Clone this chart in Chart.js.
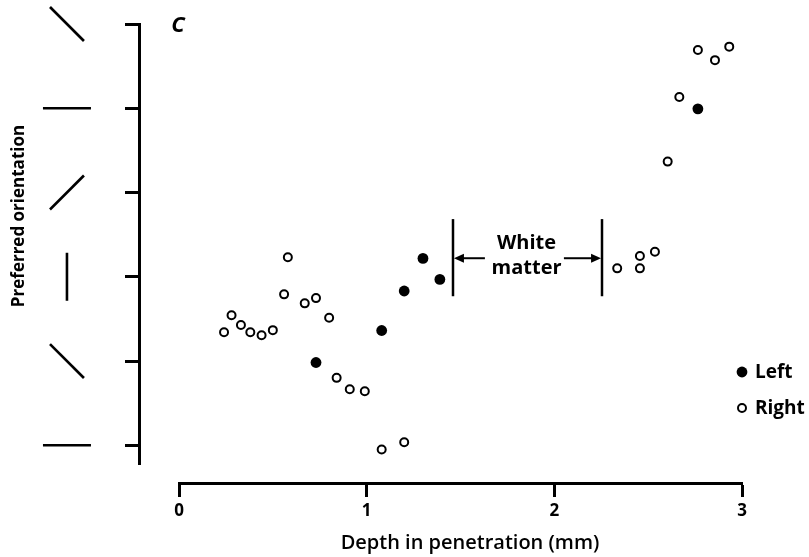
<!DOCTYPE html>
<html>
<head>
<meta charset="utf-8">
<script src="https://cdn.jsdelivr.net/npm/chart.js@4.4.1/dist/chart.umd.min.js"></script>
<style>
  html, body { margin: 0; padding: 0; background: #fff; }
</style>
</head>
<body>
<canvas id="chart" width="809" height="557"></canvas>
<script>
// depth along the electrode track (mm)
const depthTicks = [0, 1, 2, 3];
// preferred orientation, in degrees, bottom tick to top tick
const orientationTicks = [0, 45, 90, 135, 180, 225];
const seriesNames = ['Left', 'Right'];

// left eye (filled dots)
const leftDepth = [0.73, 1.08, 1.20, 1.30, 1.39, 2.765];
const leftOrient = [44.2, 61.3, 82.4, 99.8, 88.6, 179.7];

// right eye (open circles)
const rightDepth = [0.24, 0.28, 0.33, 0.38, 0.44, 0.50, 0.56, 0.58, 0.67, 0.73, 0.80, 0.84, 0.91, 0.99,
  1.08, 1.20, 2.335, 2.456, 2.456, 2.536, 2.604, 2.666, 2.765, 2.856, 2.932];
const rightOrient = [60.4, 69.4, 64.2, 60.4, 58.8, 61.5, 80.6, 100.4, 75.8, 78.6, 68.1, 36.0, 29.9, 28.9,
  -2.3, 1.6, 94.5, 94.5, 101.1, 103.4, 151.5, 186.0, 211.1, 205.7, 212.9];

// white matter stretch of the track (mm)
const whiteMatter = [1.46, 2.254];

const FONT = "'Open Sans', Lato, sans-serif";

/* orientation glyphs, labels, white-matter marker */
const extras = {
  id: 'extras',
  afterDraw(chart) {
    const ctx = chart.ctx;
    const xs = chart.scales.x, ys = chart.scales.y;
    const axisX = xs.getPixelForValue(ys.options.position.x);
    ctx.save();
    ctx.strokeStyle = '#000';
    ctx.fillStyle = '#000';
    ctx.lineCap = 'butt';

    // tick glyphs: a short bar at the orientation of each tick
    ctx.lineWidth = 2.6;
    orientationTicks.forEach(v => {
      const cy = ys.getPixelForValue(v);
      const cx = axisX - 73;
      const a = (180 - v) * Math.PI / 180;
      const L = 24;
      ctx.beginPath();
      ctx.moveTo(cx + Math.cos(a) * L, cy - Math.sin(a) * L);
      ctx.lineTo(cx - Math.cos(a) * L, cy + Math.sin(a) * L);
      ctx.stroke();
    });

    // white matter bounds
    const y1 = ys.getPixelForValue(120.8), y2 = ys.getPixelForValue(79.6);
    const ya = ys.getPixelForValue(99.9);
    ctx.lineWidth = 2.5;
    whiteMatter.forEach(d => {
      const px = xs.getPixelForValue(d);
      ctx.beginPath(); ctx.moveTo(px, y1); ctx.lineTo(px, y2); ctx.stroke();
    });
    const arrow = (from, to) => {
      const fx = xs.getPixelForValue(from), tx = xs.getPixelForValue(to);
      const dir = Math.sign(tx - fx);
      ctx.lineWidth = 2;
      ctx.beginPath(); ctx.moveTo(fx, ya); ctx.lineTo(tx - dir * 8, ya); ctx.stroke();
      ctx.beginPath();
      ctx.moveTo(tx, ya); ctx.lineTo(tx - dir * 10, ya - 4.5); ctx.lineTo(tx - dir * 10, ya + 4.5);
      ctx.closePath(); ctx.fill();
    };
    arrow(1.63, whiteMatter[0] + 0.005);
    arrow(2.051, whiteMatter[1] - 0.005);

    ctx.font = "bold 20px " + FONT;
    ctx.textAlign = 'center';
    ctx.textBaseline = 'middle';
    ctx.fillText('White', xs.getPixelForValue(1.852), ys.getPixelForValue(108.0));
    ctx.fillText('matter', xs.getPixelForValue(1.852), ys.getPixelForValue(94.7));

    // panel letter
    ctx.font = "italic bold 22px " + FONT;
    ctx.fillText('C', chart.chartArea.left - 1, ys.getPixelForValue(224));

    // legend
    const legY = [372, 408];
    ctx.font = "bold 19px " + FONT;
    ctx.textAlign = 'left';
    chart.data.datasets.forEach((ds, i) => {
      ctx.beginPath();
      ctx.arc(742, legY[i], ds.pointRadius, 0, Math.PI * 2);
      if (ds.pointBackgroundColor === '#000') ctx.fill();
      else { ctx.lineWidth = ds.pointBorderWidth; ctx.stroke(); }
      ctx.fillText(ds.label, 755, legY[i] + 1);
    });

    // axis titles
    ctx.font = "600 20px " + FONT;
    ctx.textAlign = 'center';
    ctx.textBaseline = 'alphabetic';
    ctx.fillText('Depth in penetration (mm)', 470, 549);

    ctx.translate(19, 216);
    ctx.rotate(-Math.PI / 2);
    ctx.font = "bold 17px " + FONT;
    ctx.textBaseline = 'middle';
    ctx.fillText('Preferred orientation', 0, 0);
    ctx.restore();
  }
};

new Chart(document.getElementById('chart'), {
  type: 'scatter',
  data: {
    datasets: [
      {
        label: seriesNames[0],
        data: leftDepth.map((d, i) => ({ x: d, y: leftOrient[i] })),
        pointRadius: 5.4,
        pointBackgroundColor: '#000',
        pointBorderColor: '#000',
        pointBorderWidth: 0
      },
      {
        label: seriesNames[1],
        data: rightDepth.map((d, i) => ({ x: d, y: rightOrient[i] })),
        pointRadius: 4,
        pointBackgroundColor: '#fff',
        pointBorderColor: '#000',
        pointBorderWidth: 2
      }
    ]
  },
  options: {
    responsive: false,
    animation: false,
    layout: { padding: { left: 179, right: 67, top: 24, bottom: 93 } },
    plugins: { legend: { display: false }, tooltip: { enabled: false } },
    scales: {
      x: {
        type: 'linear',
        min: 0, max: 3,
        position: { y: -20.2 },
        afterBuildTicks: s => { s.ticks = depthTicks.map(v => ({ value: v })); },
        ticks: { color: '#000', padding: 6, font: { family: FONT, size: 17, weight: 'bold' } },
        grid: { drawOnChartArea: false, tickLength: 12, tickWidth: 3, color: '#000' },
        border: { color: '#000', width: 3 }
      },
      y: {
        type: 'linear',
        min: -10, max: 225,
        position: { x: -0.208 },
        afterBuildTicks: s => { s.ticks = orientationTicks.map(v => ({ value: v })); },
        ticks: { callback: () => '', padding: 0 },
        grid: { drawOnChartArea: false, tickLength: 13, tickWidth: 3, color: '#000' },
        border: { color: '#000', width: 3 }
      }
    }
  },
  plugins: [extras]
});
</script>
</body>
</html>
